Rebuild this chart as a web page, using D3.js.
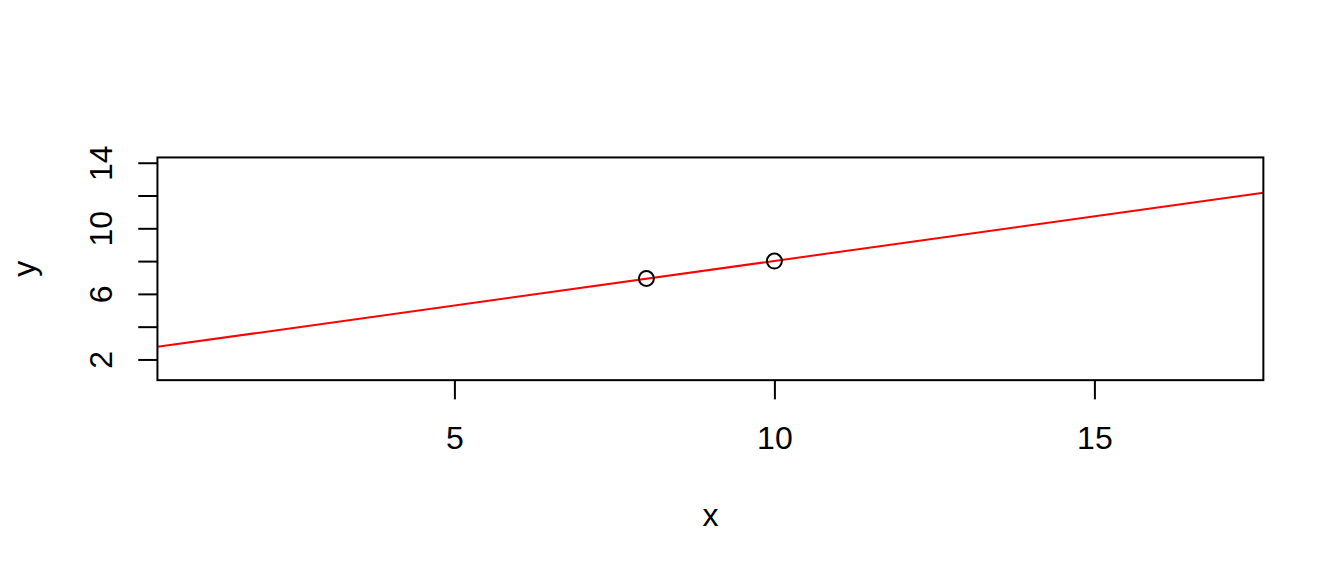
<!DOCTYPE html>
<html>
<head>
<meta charset="utf-8">
<script src="https://cdn.jsdelivr.net/npm/d3@7"></script>
<style>
	body { margin: 0; background: #fff; }
	svg { display: block; }
	text { font-family: "Liberation Sans", Arial, sans-serif; fill: #000; }
</style>
</head>
<body>
<svg width="1344" height="576"></svg>
<script>

	// data
	var point_x = [8, 10];
	var point_y = [6.94, 8.0];

	// fitted line y = a + b x
	var line_coef = [2.573, 0.5437];

	// plot limits (before the 4% R-style padding)
	var x_lim = [1, 17];
	var y_lim = [1.24, 13.82];

	var x_ticks = [5, 10, 15];
	var y_ticks = [2, 4, 6, 8, 10, 12, 14];
	var y_tick_labels = ["2", "", "6", "", "10", "", "14"];

	var x_title = "x", y_title = "y";

	var chart = (function(){

		var svg = d3.select("svg"),
			width = 1344, height = 576,
			line_h = 38.4,
			margin = { top: 4.1 * line_h, right: 2.1 * line_h, bottom: 5.1 * line_h, left: 4.1 * line_h };

		function pad(lim){
			var r = lim[1] - lim[0];
			return [lim[0] - 0.04 * r, lim[1] + 0.04 * r];
		}

		var x = d3.scaleLinear().domain(pad(x_lim)).range([margin.left, width - margin.right]);
		var y = d3.scaleLinear().domain(pad(y_lim)).range([height - margin.bottom, margin.top]);

		var plot_bottom = height - margin.bottom;

		svg.append("clipPath").attr("id", "box-clip")
			.append("rect")
			.attr("x", margin.left).attr("y", margin.top)
			.attr("width", width - margin.left - margin.right)
			.attr("height", plot_bottom - margin.top);

		// abline across the whole plot region
		var xd = x.domain();
		svg.append("line")
			.attr("clip-path", "url(#box-clip)")
			.attr("x1", x(xd[0])).attr("y1", y(line_coef[0] + line_coef[1] * xd[0]))
			.attr("x2", x(xd[1])).attr("y2", y(line_coef[0] + line_coef[1] * xd[1]))
			.attr("stroke", "#ff0000")
			.attr("stroke-width", 2);

		// points, pch = 1
		svg.append("g").selectAll("circle")
			.data(d3.range(point_x.length))
			.enter().append("circle")
			.attr("cx", function(i){ return x(point_x[i]); })
			.attr("cy", function(i){ return y(point_y[i]); })
			.attr("r", 7.5)
			.attr("fill", "none")
			.attr("stroke", "#000")
			.attr("stroke-width", 2);

		// x axis
		var gx = svg.append("g")
			.attr("transform", "translate(0," + plot_bottom + ")")
			.call(d3.axisBottom(x).tickValues(x_ticks).tickSize(19.2).tickPadding(27).tickFormat(d3.format("d")));
		gx.select(".domain").remove();
		gx.selectAll(".tick line").attr("stroke", "#000").attr("stroke-width", 2);
		gx.selectAll("text").attr("font-size", 32).attr("font-family", null).attr("fill", "#000");

		// y axis, labels turned like R's las = 0
		var gy = svg.append("g")
			.attr("transform", "translate(" + margin.left + ",0)")
			.call(d3.axisLeft(y).tickValues(y_ticks).tickSize(19.2)
				.tickFormat(function(d, i){ return y_tick_labels[i]; }));
		gy.select(".domain").remove();
		gy.selectAll(".tick line").attr("stroke", "#000").attr("stroke-width", 2);
		gy.selectAll("text")
			.attr("font-size", 32).attr("font-family", null).attr("fill", "#000")
			.attr("x", null).attr("dy", null)
			.attr("text-anchor", "middle")
			.attr("transform", "translate(" + (112 - margin.left) + ",0) rotate(-90)");

		// box
		svg.append("rect")
			.attr("x", margin.left).attr("y", margin.top)
			.attr("width", width - margin.left - margin.right)
			.attr("height", plot_bottom - margin.top)
			.attr("fill", "none")
			.attr("stroke", "#000")
			.attr("stroke-width", 2);

		// axis titles
		svg.append("text")
			.attr("x", (margin.left + width - margin.right) / 2)
			.attr("y", 525.5)
			.attr("text-anchor", "middle")
			.attr("font-size", 32)
			.text(x_title);

		svg.append("text")
			.attr("transform", "translate(35," + ((margin.top + plot_bottom) / 2) + ") rotate(-90)")
			.attr("text-anchor", "middle")
			.attr("font-size", 32)
			.text(y_title);

		return null;
	})();

</script>
</body>
</html>
